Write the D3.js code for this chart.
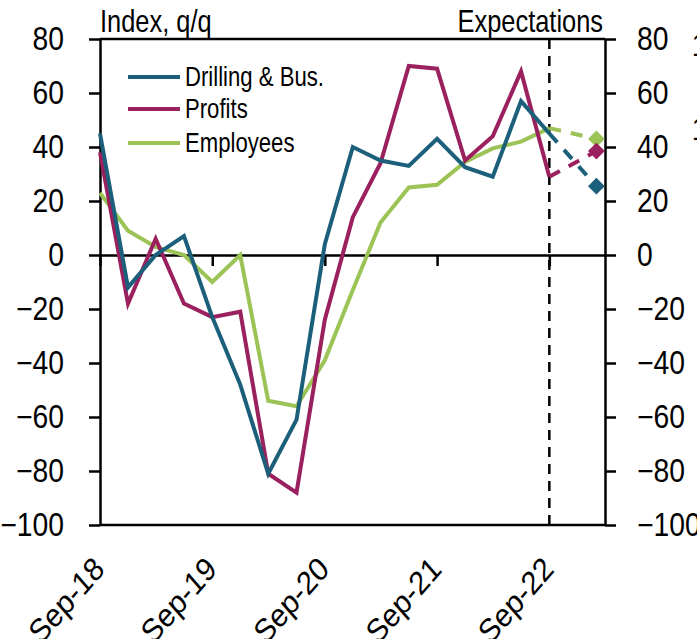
<!DOCTYPE html>
<html>
<head>
<meta charset="utf-8">
<script src="https://cdn.jsdelivr.net/npm/d3@7"></script>
<style>
  body { margin: 0; background: #fff; }
  svg text { font-family: "Liberation Sans", Arial, sans-serif; fill: #000; }
</style>
</head>
<body>
<div id="chart-area"></div>
<script>
// quarterly survey, index q/q
var quarters = ['2018-09', '2018-12', '2019-03', '2019-06', '2019-09', '2019-12', '2020-03', '2020-06',
    '2020-09', '2020-12', '2021-03', '2021-06', '2021-09', '2021-12', '2022-03', '2022-06', '2022-09'];
var drilling = [45, -12, 0, 7, -23, -48, -81, -61, 4, 40, 35, 33, 43, 32.5, 29, 57, 45];
var profits = [38, -18, 6, -18, -23, -21, -81, -88, -24, 14, 34, 70, 69, 35, 44, 68, 29];
var employees = [23, 9, 3, 0, -10, 0, -54, -56, -39, -13, 12, 25, 26, 34.5, 39.5, 42, 47];

// expectations for next quarter
var expDate = '2023-02';
var expDrilling = 25.5;
var expProfits = 38.5;
var expEmployees = 43;

var yTicks = [-100, -80, -60, -40, -20, 0, 20, 40, 60, 80];
var xTicks = ['2018-09', '2019-09', '2020-09', '2021-09', '2022-09'];
var seriesNames = ['Drilling & Bus.', 'Profits', 'Employees'];
var colors = ['#1c5f7b', '#9a205e', '#9cc356'];

var parse = d3.timeParse('%Y-%m');
var fmt = d3.timeFormat('%b-%y');

var W = 697, H = 639;
var mLeft = 100, mRight = 605, mTop = 39, mBottom = 525;

// squeeze texts horizontally around their own x position
function squeeze(sel, k) {
    sel.each(function () {
        var t = d3.select(this);
        var x0 = +t.attr('x') || 0;
        var tr = t.attr('transform') || '';
        t.attr('x', x0 / k)
            .attr('transform', tr + ' scale(' + k + ',1)');
    });
}

var svg = d3.select('#chart-area')
    .append('svg')
    .attr('width', W)
    .attr('height', H);

var x = d3.scaleTime()
    .domain([parse('2018-09'), parse('2023-03')])
    .range([mLeft, mRight]);

var y = d3.scaleLinear()
    .domain([-100, 80])
    .range([mBottom, mTop]);

// frame lines top / bottom
svg.append('line')
    .attr('x1', mLeft).attr('x2', mRight)
    .attr('y1', y(80)).attr('y2', y(80))
    .attr('stroke', '#000').attr('stroke-width', 2.5);
svg.append('line')
    .attr('x1', mLeft).attr('x2', mRight)
    .attr('y1', y(-100)).attr('y2', y(-100))
    .attr('stroke', '#000').attr('stroke-width', 2.5);

// zero line with year ticks
var xAxis = d3.axisBottom(x)
    .tickValues(xTicks.map(parse))
    .tickSize(11)
    .tickSizeOuter(0)
    .tickFormat('');
svg.append('g')
    .attr('class', 'x-axis')
    .attr('transform', 'translate(0,' + y(0) + ')')
    .call(xAxis);

var yAxisL = d3.axisLeft(y)
    .tickValues(yTicks)
    .tickSize(11)
    .tickSizeOuter(0)
    .tickPadding(25);
svg.append('g')
    .attr('class', 'y-axis')
    .attr('transform', 'translate(' + mLeft + ',0)')
    .call(yAxisL);

var yAxisR = d3.axisRight(y)
    .tickValues(yTicks)
    .tickSize(11)
    .tickSizeOuter(0)
    .tickPadding(21);
svg.append('g')
    .attr('class', 'y-axis')
    .attr('transform', 'translate(' + mRight + ',0)')
    .call(yAxisR);

svg.selectAll('.x-axis path, .x-axis line, .y-axis path, .y-axis line')
    .attr('stroke', '#000')
    .attr('stroke-width', 2.5);
svg.selectAll('.y-axis text')
    .style('font-size', '32.5px')
    .attr('font-family', null)
    .call(squeeze, 0.87);

// rotated date labels (chart is a little stretched vertically)
svg.append('g')
    .selectAll('text')
    .data(xTicks)
    .enter()
    .append('text')
    .attr('transform', function (d) {
        return 'translate(' + (x(parse(d)) + 6) + ',' + (mBottom + 46) + ') scale(1,1.14) rotate(-45)';
    })
    .attr('text-anchor', 'end')
    .style('font-size', '28.7px')
    .text(function (d) { return fmt(parse(d)); });

// expectations divider
svg.append('line')
    .attr('x1', x(parse('2022-09'))).attr('x2', x(parse('2022-09')))
    .attr('y1', mTop).attr('y2', mBottom)
    .attr('stroke', '#000')
    .attr('stroke-width', 2.5)
    .attr('stroke-dasharray', '10,7');

var line = d3.line()
    .x(function (d) { return x(d.date); })
    .y(function (d) { return y(d.value); });

var all = [drilling, profits, employees];
var expByIdx = [expDrilling, expProfits, expEmployees];

// draw employees first so blue and magenta sit on top
[2, 1, 0].forEach(function (i) {
    var pts = quarters.map(function (q, k) {
        return { date: parse(q), value: all[i][k] };
    });
    var last = pts[pts.length - 1];
    var fc = [last, { date: parse(expDate), value: expByIdx[i] }];

    svg.append('path')
        .datum(pts)
        .attr('fill', 'none')
        .attr('stroke', colors[i])
        .attr('stroke-width', 4)
        .attr('d', line);

    svg.append('path')
        .datum(fc)
        .attr('fill', 'none')
        .attr('stroke', colors[i])
        .attr('stroke-width', 4)
        .attr('stroke-dasharray', '12,10')
        .attr('d', line);

    svg.append('path')
        .attr('d', d3.symbol().type(d3.symbolDiamond2).size(180)())
        .attr('transform', 'translate(' + x(parse(expDate)) + ',' + y(expByIdx[i]) + ')')
        .attr('fill', colors[i]);
});

// legend
var legend = svg.append('g')
    .attr('transform', 'translate(128,77)');
seriesNames.forEach(function (name, i) {
    var row = legend.append('g').attr('transform', 'translate(0,' + [0, 32, 66][i] + ')');
    row.append('line')
        .attr('x1', 0).attr('x2', 52)
        .attr('stroke', colors[i])
        .attr('stroke-width', 4);
    row.append('text')
        .attr('x', 57)
        .attr('y', 9)
        .style('font-size', '27px')
        .text(name)
        .call(squeeze, 0.82);
});

// titles
svg.append('text')
    .attr('x', mLeft)
    .attr('y', 32)
    .style('font-size', '31px')
    .text('Index, q/q')
    .call(squeeze, 0.82);
svg.append('text')
    .attr('x', 603)
    .attr('y', 32)
    .attr('text-anchor', 'end')
    .style('font-size', '31px')
    .text('Expectations')
    .call(squeeze, 0.82);

// clipped labels of the neighbouring panel
svg.append('text').attr('x', 692).attr('y', 56).style('font-size', '31px').text('1').call(squeeze, 0.82);
svg.append('text').attr('x', 692).attr('y', 140).style('font-size', '31px').text('1').call(squeeze, 0.82);
</script>
</body>
</html>
